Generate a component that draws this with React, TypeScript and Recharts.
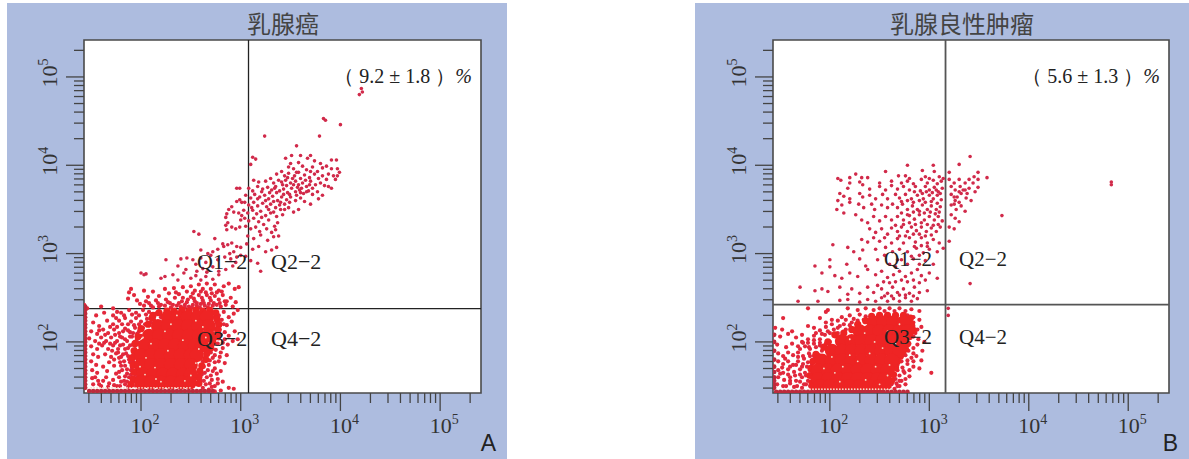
import { ScatterChart, Scatter, XAxis, YAxis, ReferenceLine, ReferenceArea } from "recharts";

// all point lists are [log10 x, log10 y]

const AXIS_MIN_X = 26.8;
const AXIS_MAX_X = 257000;
const AXIS_MIN_Y = 26.4;
const AXIS_MAX_Y = 262000;

const MAJOR_TICKS = [100, 1000, 10000, 100000];
const X_TICKS = [30, 40, 50, 60, 70, 80, 90, 100, 200, 300, 400, 500, 600, 700, 800, 900, 1000, 2000, 3000, 4000, 5000, 6000, 7000, 8000, 9000, 10000, 20000, 30000, 40000, 50000, 60000, 70000, 80000, 90000, 100000, 200000];
const Y_TICKS = X_TICKS;

// 乳腺癌
const aGateX = 1197;
const aGateY = 238;

const aCore = [
  [2.27,2.28],[2.37,2.28],[2.47,2.28],[2.57,2.28],[2.66,2.28],[2.17,2.18],[2.27,2.18],[2.37,2.18],[2.47,2.18],[2.57,2.18],[2.68,2.18],
  [2.08,2.07],[2.18,2.07],[2.28,2.07],[2.38,2.07],[2.48,2.07],[2.58,2.07],[2.67,2.07],[2.04,1.96],[2.14,1.96],[2.24,1.96],[2.34,1.96],[2.44,1.96],[2.54,1.96],[2.61,1.96],
  [2.0,1.85],[2.1,1.85],[2.2,1.85],[2.3,1.85],[2.4,1.85],[2.5,1.85],[2.56,1.85],[2.0,1.74],[2.1,1.74],[2.2,1.74],[2.3,1.74],[2.4,1.74],[2.5,1.74],
  [2.02,1.63],[2.12,1.63],[2.22,1.63],[2.32,1.63],[2.42,1.63],[2.5,1.63],[2.0,1.54],[2.1,1.54],[2.2,1.54],[2.3,1.54],[2.4,1.54],[2.49,1.54],
];
const aHalo = [
  [2.18,2.33],[2.26,2.35],[2.33,2.35],[2.41,2.36],[2.48,2.35],[2.55,2.36],[2.62,2.35],[2.69,2.36],[2.75,2.33],[2.76,2.26],[2.78,2.2],[2.77,2.13],[2.76,2.06],[2.72,2.0],[2.7,1.93],[2.66,1.87],[2.65,1.8],[2.61,1.73],[2.59,1.67],[2.58,1.6],[2.58,1.53],
  [2.11,2.27],[2.07,2.2],[2.0,2.15],[1.97,2.06],[1.94,1.98],[1.93,1.9],[1.91,1.82],[1.92,1.74],[1.93,1.66],[1.92,1.58],[1.9,1.52],[2.12,2.3],
];
const aEdge = [
  [1.44,2.4],[1.44,2.36],[1.44,2.32],[1.44,2.28],[1.44,2.24],[1.44,2.2],[1.44,2.16],[1.44,2.12],[1.44,2.08],[1.44,2.04],[1.44,2.0],[1.44,1.96],[1.44,1.92],[1.44,1.88],[1.44,1.84],[1.44,1.8],[1.44,1.76],[1.44,1.72],[1.44,1.68],[1.44,1.64],[1.44,1.6],[1.44,1.56],[1.44,1.52],[1.44,1.48],
  [1.48,1.445],[1.52,1.445],[1.56,1.445],[1.6,1.445],[1.64,1.445],[1.68,1.445],[1.72,1.445],[1.76,1.445],[1.8,1.445],[1.84,1.445],[1.88,1.445],[1.92,1.445],[1.96,1.445],[2.0,1.445],[2.04,1.445],[2.08,1.445],[2.12,1.445],[2.16,1.445],[2.2,1.445],[2.24,1.445],[2.28,1.445],[2.32,1.445],[2.36,1.445],[2.4,1.445],[2.44,1.445],[2.48,1.445],[2.52,1.445],[2.56,1.445],[2.6,1.445],[2.64,1.445],[2.68,1.445],[2.72,1.445],
];
const aBand = [
  [1.5,1.48],[1.53,1.48],[1.56,1.48],[1.59,1.48],[1.62,1.48],[1.65,1.48],[1.68,1.48],[1.71,1.48],[1.74,1.48],[1.77,1.48],[1.8,1.48],[1.83,1.48],[1.86,1.48],[1.89,1.48],[1.92,1.48],[1.95,1.48],[1.98,1.48],[2.01,1.48],[2.04,1.48],[2.07,1.48],[2.1,1.48],[2.13,1.48],[2.16,1.48],[2.19,1.48],[2.22,1.48],[2.25,1.48],[2.28,1.48],[2.31,1.48],[2.34,1.48],[2.37,1.48],[2.4,1.48],[2.43,1.48],[2.46,1.48],[2.49,1.48],
];
const aGaps = [
  [2.02,2.05],[2.1,1.98],[2.05,1.82],[2.14,1.71],[2.04,1.63],[2.15,1.58],[2.24,2.12],[2.3,2.2],[2.42,2.02],[2.27,1.9],[2.58,1.92],[2.55,1.76],[2.5,1.62],[2.44,1.56],[2.62,2.17],[2.55,2.24],[2.36,2.3],[2.65,2.05],[2.2,1.55],[1.99,1.72],
];
const aCluster = [
  [4.21,4.87],[4.19,4.8],[4.22,4.83],[3.83,4.53],[3.85,4.51],[4.0,4.46],[3.24,4.33],[3.79,4.33],[3.56,4.22],
  [3.12,4.09],[3.15,4.07],[3.1,4.01],[3.45,4.08],[3.51,4.11],[3.58,4.03],[3.6,4.11],[3.7,4.11],[3.67,4.08],[3.74,4.05],[3.8,4.02],[3.91,4.06],[3.96,4.06],
  [3.48,3.98],[3.5,4.02],[3.53,3.96],[3.62,3.99],[3.66,3.95],[3.72,3.98],[3.77,3.93],[3.82,3.97],[3.86,3.99],[3.91,3.96],[3.97,3.96],[3.99,3.92],[3.93,3.88],
  [3.36,3.9],[3.41,3.93],[3.44,3.88],[3.48,3.91],[3.54,3.88],[3.58,3.92],[3.6,3.85],[3.64,3.89],[3.69,3.86],[3.74,3.9],[3.78,3.85],[3.82,3.88],[3.86,3.84],[3.88,3.9],[3.95,3.84],[3.97,3.88],
  [3.13,3.83],[3.18,3.81],[3.25,3.82],[3.3,3.85],[3.33,3.8],[3.38,3.83],[3.42,3.78],[3.45,3.83],[3.5,3.8],[3.55,3.82],[3.58,3.78],[3.62,3.8],[3.66,3.76],[3.7,3.82],[3.75,3.78],[3.8,3.8],[3.84,3.77],[3.88,3.76],[3.91,3.74],
  [3.08,3.74],[3.12,3.71],[3.17,3.76],[3.22,3.73],[3.27,3.75],[3.31,3.72],[3.35,3.76],[3.39,3.71],[3.43,3.73],[3.47,3.69],[3.51,3.74],[3.55,3.7],[3.59,3.72],[3.63,3.68],[3.68,3.71],[3.72,3.67],[3.77,3.7],[3.82,3.66],
  [3.05,3.66],[3.1,3.63],[3.14,3.67],[3.19,3.64],[3.24,3.66],[3.28,3.62],[3.32,3.65],[3.37,3.6],[3.41,3.64],[3.46,3.61],[3.5,3.64],[3.55,3.6],[3.6,3.63],[3.64,3.59],[3.7,3.56],[3.78,3.62],
  [3.04,3.58],[3.08,3.55],[3.13,3.58],[3.17,3.54],[3.22,3.57],[3.26,3.53],[3.3,3.56],[3.35,3.52],[3.39,3.55],[3.44,3.5],[3.48,3.52],[3.53,3.47],[3.58,3.5],
  [3.03,3.49],[3.07,3.46],[3.12,3.49],[3.16,3.45],[3.2,3.48],[3.25,3.43],[3.3,3.46],[3.36,3.42],[3.42,3.44],[3.04,3.4],[3.08,3.37],[3.13,3.4],[3.18,3.36],[3.23,3.33],[3.28,3.38],[3.34,3.31],[3.37,3.35],
  [3.05,3.31],[3.1,3.28],[3.15,3.3],[3.19,3.25],[3.26,3.28],[3.31,3.24],[3.35,3.27],[3.07,3.2],[3.13,3.17],[3.2,3.21],[3.27,3.15],[3.33,3.19],[3.38,3.2],[3.06,3.11],[3.12,3.05],[3.18,3.08],[3.25,3.02],[3.31,3.04],[3.36,3.07],
  [3.05,2.97],[3.1,2.92],[3.17,2.89],[3.2,2.8],
  [3.34,3.74],[3.36,3.69],[3.41,3.81],[3.43,3.67],[3.46,3.77],[3.49,3.67],[3.52,3.85],[3.53,3.78],[3.56,3.66],[3.57,3.75],[3.61,3.74],[3.6,3.69],[3.65,3.83],[3.66,3.7],[3.69,3.78],[3.72,3.74],[3.29,3.69],[3.25,3.6],[3.21,3.7],[3.33,3.59],[3.4,3.58],[3.44,3.56],[3.49,3.58],[3.28,3.5],[3.33,3.47],[3.17,3.62],[3.11,3.52],[3.21,3.41],[3.4,3.5],[3.47,3.86],[3.56,3.92],[3.7,3.93],
];
const aTail = [
  [2.96,3.74],[2.99,3.74],[2.99,3.61],[3.01,3.58],[2.96,3.59],[2.91,3.53],[2.88,3.5],[2.86,3.45],[2.85,3.41],[2.93,3.47],[2.98,3.46],[3.01,3.43],
  [2.87,3.35],[2.85,3.32],[2.91,3.3],[2.86,3.27],[3.0,3.38],[2.95,3.28],[2.99,3.3],[2.53,3.25],[2.58,3.22],[2.74,3.17],[2.82,3.11],[2.87,3.1],[2.91,3.12],[2.96,3.08],[3.0,3.07],
  [2.6,3.04],[2.67,3.0],[2.72,3.02],[2.77,3.05],[2.83,3.08],[2.89,3.0],[2.93,3.02],[2.96,2.96],[3.0,2.98],
  [2.4,2.94],[2.46,2.95],[2.52,2.93],[2.55,2.88],[2.6,2.95],[2.65,2.9],[2.7,2.98],[2.77,2.93],[2.84,2.96],[2.9,2.94],[2.95,2.9],
  [2.25,2.93],[2.37,2.86],[2.45,2.82],[2.56,2.8],[2.62,2.83],[2.66,2.79],[2.72,2.85],[2.78,2.8],[2.85,2.82],[2.92,2.86],
  [2.0,2.78],[2.03,2.76],[2.05,2.77],[2.2,2.72],[2.24,2.74],[2.32,2.76],[2.37,2.7],[2.43,2.78],[2.5,2.72],[2.55,2.75],[2.6,2.7],[2.65,2.74],[2.72,2.71],[2.78,2.76],
];
const aFringe = [
  [1.9,2.6],[1.88,2.56],[1.93,2.53],[1.87,2.49],[1.96,2.47],[2.03,2.58],[2.07,2.51],[2.12,2.57],[2.18,2.52],[2.24,2.6],[2.28,2.55],[2.33,2.61],[2.38,2.54],[2.42,2.62],[2.46,2.57],[2.5,2.63],[2.54,2.58],[2.58,2.65],[2.62,2.6],[2.66,2.66],[2.7,2.6],[2.74,2.65],[2.78,2.58],[2.83,2.63],[2.88,2.66],[2.94,2.6],[2.98,2.62],
  [1.99,2.43],[2.05,2.46],[2.1,2.41],[2.15,2.47],[2.2,2.42],[2.25,2.48],[2.29,2.44],[2.34,2.5],[2.38,2.44],[2.42,2.5],[2.46,2.45],[2.5,2.51],[2.54,2.46],[2.58,2.53],[2.62,2.47],[2.66,2.53],[2.7,2.47],[2.74,2.52],[2.78,2.48],[2.82,2.53],[2.86,2.46],[2.9,2.5],[2.95,2.45],
  [2.12,2.39],[2.18,2.4],[2.24,2.41],[2.3,2.39],[2.36,2.41],[2.4,2.4],[2.44,2.42],[2.48,2.4],[2.52,2.42],[2.56,2.41],[2.6,2.43],[2.64,2.41],[2.68,2.43],[2.72,2.41],[2.76,2.42],[2.8,2.4],[2.85,2.42],[2.92,2.4],
  [2.27,2.45],[2.32,2.42],[2.41,2.46],[2.44,2.39],[2.47,2.48],[2.51,2.39],[2.53,2.49],[2.56,2.44],[2.59,2.39],[2.61,2.5],[2.63,2.44],[2.65,2.56],[2.67,2.39],[2.69,2.5],[2.71,2.55],[2.73,2.44],[2.76,2.56],[2.79,2.44],[2.81,2.57],[2.84,2.46],[2.17,2.44],[2.08,2.44],[2.03,2.41],[2.35,2.56],[2.52,2.55],[2.6,2.57],
];
const aField = [
  [1.43,2.42],[1.46,2.38],[1.6,2.4],[1.72,2.38],[1.55,2.3],[1.63,2.33],[1.72,2.3],[1.8,2.33],[1.88,2.36],[1.95,2.33],[2.02,2.36],[2.08,2.34],[2.15,2.32],
  [1.52,2.22],[1.58,2.18],[1.66,2.24],[1.72,2.2],[1.78,2.24],[1.84,2.27],[1.9,2.23],[1.95,2.27],[2.0,2.23],[2.06,2.26],[2.1,2.22],
  [1.5,2.12],[1.56,2.09],[1.62,2.14],[1.67,2.1],[1.73,2.14],[1.78,2.1],[1.84,2.15],[1.89,2.11],[1.94,2.16],[1.98,2.12],[2.02,2.16],
  [1.48,2.04],[1.54,2.01],[1.6,2.05],[1.65,2.01],[1.7,2.05],[1.76,2.01],[1.81,2.05],[1.86,2.01],[1.91,2.06],[1.96,2.03],
  [1.5,1.95],[1.56,1.92],[1.61,1.96],[1.67,1.92],[1.72,1.96],[1.77,1.92],[1.82,1.97],[1.87,1.93],[1.92,1.97],
  [1.52,1.86],[1.57,1.83],[1.64,1.86],[1.7,1.83],[1.75,1.87],[1.8,1.83],[1.85,1.87],[1.9,1.83],[1.94,1.87],
  [1.5,1.78],[1.55,1.74],[1.62,1.72],[1.68,1.77],[1.73,1.73],[1.79,1.77],[1.84,1.73],[1.89,1.77],[1.93,1.73],
  [1.51,1.68],[1.56,1.65],[1.66,1.67],[1.75,1.64],[1.81,1.68],[1.86,1.64],[1.9,1.68],[1.94,1.63],
  [1.51,1.59],[1.57,1.56],[1.65,1.6],[1.72,1.57],[1.78,1.6],[1.83,1.56],[1.88,1.6],[1.93,1.56],
  [1.52,1.52],[1.6,1.5],[1.68,1.53],[1.76,1.5],[1.84,1.52],[1.9,1.5],[1.95,1.5],
  [2.72,2.33],[2.78,2.3],[2.83,2.34],[2.88,2.28],[2.93,2.32],[2.97,2.36],[2.76,2.22],[2.81,2.25],[2.86,2.19],[2.91,2.23],[2.79,2.14],[2.84,2.11],[2.88,2.07],[2.94,2.12],[2.78,2.04],[2.82,1.99],[2.87,1.97],[2.92,2.01],[2.97,2.03],
  [2.7,1.95],[2.75,1.91],[2.8,1.88],[2.86,1.85],[2.66,1.86],[2.72,1.82],[2.78,1.78],[2.84,1.76],[2.62,1.78],[2.68,1.74],[2.74,1.7],[2.8,1.67],[2.6,1.69],[2.64,1.65],[2.7,1.62],[2.77,1.58],[2.58,1.6],[2.63,1.56],[2.69,1.53],[2.74,1.5],[2.82,1.55],[2.88,1.48],[2.58,1.52],[2.62,1.48],[2.68,1.46],[2.74,1.44],[2.8,1.45],[2.93,1.47],
  // second pass over the speckled parts, they are a lot denser than one layer
  [1.76,2.34],[1.83,2.3],[1.91,2.31],[1.98,2.3],[2.05,2.31],[2.11,2.3],[2.18,2.35],[2.2,2.28],[1.75,2.27],[1.81,2.2],[1.87,2.2],[1.93,2.19],[1.98,2.2],[2.04,2.2],[2.08,2.19],[2.13,2.25],
  [1.76,2.17],[1.82,2.12],[1.87,2.13],[1.92,2.1],[1.96,2.09],[2.0,2.07],[1.69,2.17],[1.64,2.08],[1.58,2.13],[1.74,2.08],[1.79,2.06],[1.84,2.03],[1.89,2.06],[1.94,2.0],[1.98,1.99],
  [1.69,1.98],[1.74,1.99],[1.79,1.96],[1.84,1.92],[1.89,1.96],[1.94,1.92],[1.98,1.9],[1.63,1.99],[1.58,1.98],[1.71,1.9],[1.77,1.88],[1.82,1.86],[1.87,1.84],[1.92,1.85],[1.96,1.81],
  [1.73,1.8],[1.78,1.82],[1.83,1.78],[1.88,1.8],[1.92,1.78],[1.96,1.76],[1.8,1.73],[1.86,1.69],[1.91,1.71],[1.96,1.69],[1.78,1.66],[1.84,1.61],[1.9,1.63],[1.96,1.6],[1.8,1.55],[1.86,1.55],[1.91,1.58],[1.97,1.54],[1.73,1.51],[1.79,1.5],[1.87,1.49],[1.98,1.49],[1.62,1.56],[1.54,1.6],[1.58,1.52],[1.67,1.49],
  [2.7,2.25],[2.74,2.28],[2.79,2.18],[2.74,2.15],[2.83,2.2],[2.72,2.1],[2.75,2.06],[2.8,2.08],[2.84,2.03],[2.69,2.02],[2.72,1.97],[2.77,1.98],[2.82,1.93],[2.67,1.91],[2.7,1.88],[2.74,1.85],[2.79,1.83],[2.64,1.82],[2.69,1.79],[2.74,1.77],[2.63,1.72],[2.67,1.68],[2.72,1.67],[2.76,1.64],[2.61,1.63],[2.66,1.6],[2.71,1.57],[2.6,1.56],[2.65,1.52],[2.71,1.49],[2.77,1.53],
];

// 乳腺良性肿瘤
const bGateX = 1455;
const bGateY = 264;

const bCore = [
  [2.44,2.22],[2.54,2.22],[2.64,2.22],[2.74,2.22],[2.3,2.12],[2.4,2.12],[2.5,2.12],[2.6,2.12],[2.7,2.12],[2.78,2.12],
  [2.12,2.01],[2.22,2.01],[2.32,2.01],[2.42,2.01],[2.52,2.01],[2.62,2.01],[2.72,2.01],[2.02,1.9],[2.12,1.9],[2.22,1.9],[2.32,1.9],[2.42,1.9],[2.52,1.9],[2.62,1.9],[2.7,1.9],
  [1.92,1.79],[2.02,1.79],[2.12,1.79],[2.22,1.79],[2.32,1.79],[2.42,1.79],[2.52,1.79],[2.62,1.79],[1.88,1.68],[1.98,1.68],[2.08,1.68],[2.18,1.68],[2.28,1.68],[2.38,1.68],[2.48,1.68],[2.58,1.68],
  [1.88,1.58],[1.98,1.58],[2.08,1.58],[2.18,1.58],[2.28,1.58],[2.38,1.58],[2.48,1.58],[2.55,1.58],[1.9,1.5],[2.0,1.5],[2.1,1.5],[2.2,1.5],[2.3,1.5],[2.4,1.5],[2.5,1.5],
];
const bHalo = [
  [2.36,2.24],[2.42,2.29],[2.5,2.3],[2.58,2.3],[2.66,2.3],[2.74,2.3],[2.81,2.27],[2.82,2.2],[2.84,2.13],[2.8,2.06],[2.78,1.98],[2.76,1.92],[2.71,1.84],[2.68,1.78],[2.66,1.71],[2.64,1.63],[2.62,1.56],[2.58,1.5],
  [2.28,2.2],[2.22,2.14],[2.14,2.1],[2.05,2.08],[1.98,2.0],[1.94,1.94],[1.86,1.86],[1.83,1.78],[1.81,1.7],[1.8,1.62],[1.82,1.54],[1.83,1.49],
];
const bEdge = [
  [1.44,2.08],[1.44,2.0],[1.44,1.9],[1.44,1.8],[1.44,1.72],[1.44,1.66],[1.44,1.6],[1.44,1.56],[1.44,1.52],[1.44,1.48],
  [1.46,1.435],[1.5,1.435],[1.54,1.435],[1.58,1.435],[1.62,1.435],[1.66,1.435],[1.7,1.435],[1.74,1.435],[1.78,1.435],[1.82,1.435],[1.86,1.435],[1.9,1.435],[1.94,1.435],[1.98,1.435],[2.02,1.435],[2.06,1.435],[2.1,1.435],[2.14,1.435],[2.18,1.435],[2.22,1.435],[2.26,1.435],[2.3,1.435],[2.34,1.435],[2.38,1.435],[2.42,1.435],[2.46,1.435],[2.5,1.435],[2.54,1.435],[2.58,1.435],[2.62,1.435],[2.66,1.435],[2.7,1.435],[2.74,1.435],[2.78,1.435],
];
const bBand = [
  [1.8,1.465],[1.83,1.465],[1.86,1.465],[1.89,1.465],[1.92,1.465],[1.95,1.465],[1.98,1.465],[2.01,1.465],[2.04,1.465],[2.07,1.465],[2.1,1.465],[2.13,1.465],[2.16,1.465],[2.19,1.465],[2.22,1.465],[2.25,1.465],[2.28,1.465],[2.31,1.465],[2.34,1.465],[2.37,1.465],[2.4,1.465],[2.43,1.465],[2.46,1.465],[2.49,1.465],[2.52,1.465],[2.55,1.465],[2.58,1.465],[2.61,1.465],
];
const bGaps = [
  [2.02,1.83],[1.94,1.7],[2.05,1.65],[2.13,1.72],[2.2,1.85],[2.1,1.55],[2.36,1.57],[2.28,1.78],[2.4,1.87],[2.45,2.0],[2.53,1.93],[2.58,2.12],[2.46,1.72],[2.58,1.62],[2.35,2.1],[2.2,2.03],[2.66,1.98],[2.7,2.2],[2.6,1.74],[2.5,1.52],
];
const bCluster = [
  [3.41,4.1],[4.83,3.81],[4.83,3.78],[3.73,3.43],[3.41,2.66],[3.19,2.3],[3.19,2.38],
  [2.78,4.0],[3.04,4.0],[3.3,4.01],[2.56,3.93],[2.26,3.9],[2.93,3.94],[3.05,3.93],[3.2,3.92],[3.49,3.92],[3.45,3.87],[3.58,3.86],[3.49,3.84],[2.08,3.85],[2.11,3.83],[2.2,3.86],[2.32,3.86],[2.38,3.86],[2.3,3.81],[2.69,3.88],[2.76,3.88],[2.8,3.85],[2.96,3.87],[3.0,3.85],[3.1,3.87],[3.14,3.85],
  [2.2,3.8],[2.18,3.74],[2.33,3.78],[2.5,3.8],[2.62,3.82],[2.72,3.8],[2.78,3.82],[2.84,3.79],[2.92,3.84],[2.98,3.8],[3.04,3.83],[3.08,3.79],[3.12,3.82],[3.2,3.84],[3.25,3.8],[3.3,3.84],[3.36,3.8],[3.4,3.84],[3.44,3.8],[3.49,3.75],
  [2.4,3.73],[2.5,3.76],[2.56,3.72],[2.62,3.77],[2.68,3.73],[2.74,3.76],[2.8,3.72],[2.86,3.76],[2.91,3.71],[2.96,3.76],[3.0,3.72],[3.05,3.75],[3.09,3.7],[3.13,3.74],[3.22,3.76],[3.26,3.72],[3.31,3.76],[3.36,3.72],[3.4,3.74],[3.46,3.7],
  [2.1,3.68],[2.14,3.65],[2.2,3.62],[2.08,3.6],[2.3,3.68],[2.33,3.64],[2.4,3.66],[2.46,3.62],[2.53,3.67],[2.58,3.62],[2.66,3.67],[2.7,3.63],[2.76,3.67],[2.82,3.62],[2.88,3.66],[2.94,3.62],[3.0,3.66],[3.04,3.62],[3.08,3.66],[3.12,3.61],[3.22,3.67],[3.28,3.64],[3.32,3.68],[3.37,3.63],[3.42,3.6],
  [2.12,3.55],[2.2,3.58],[2.07,3.5],[2.14,3.46],[2.29,3.56],[2.34,3.52],[2.42,3.56],[2.45,3.5],[2.52,3.55],[2.58,3.52],[2.63,3.56],[2.68,3.52],[2.73,3.56],[2.78,3.5],[2.83,3.54],[2.88,3.5],[2.93,3.55],[2.98,3.5],[3.02,3.54],[3.07,3.5],[3.11,3.53],[3.22,3.55],[3.27,3.5],[3.32,3.54],[3.36,3.48],
  [2.26,3.44],[2.32,3.38],[2.38,3.35],[2.44,3.42],[2.5,3.37],[2.56,3.42],[2.62,3.38],[2.68,3.42],[2.74,3.38],[2.8,3.43],[2.85,3.39],[2.9,3.44],[2.95,3.38],[3.0,3.42],[3.05,3.38],[3.09,3.42],[3.13,3.37],[3.22,3.44],[3.26,3.4],[3.3,3.36],
  [2.4,3.28],[2.46,3.24],[2.52,3.28],[2.58,3.22],[2.62,3.29],[2.68,3.25],[2.72,3.3],[2.78,3.25],[2.82,3.3],[2.87,3.26],[2.92,3.3],[2.97,3.25],[3.02,3.29],[3.07,3.25],[3.11,3.3],[3.2,3.3],[3.25,3.28],
  [2.32,3.16],[2.38,3.13],[2.44,3.18],[2.5,3.14],[2.55,3.18],[2.62,3.12],[2.68,3.17],[2.74,3.12],[2.8,3.18],[2.86,3.13],[2.92,3.18],[2.98,3.12],[3.04,3.16],[3.1,3.12],[3.2,3.14],
  [2.03,3.1],[2.18,3.07],[2.24,3.02],[2.33,3.04],[2.46,3.05],[2.56,3.07],[2.63,3.02],[2.7,3.05],[2.78,3.02],[2.87,3.06],[2.94,3.01],[3.0,3.05],[3.08,3.02],[3.14,3.06],
  [1.85,2.86],[2.0,2.93],[2.0,2.85],[2.17,2.88],[2.3,2.94],[2.36,2.86],[2.48,2.93],[2.55,2.98],[2.6,2.88],[2.66,2.85],[2.72,2.93],[2.78,2.88],[2.84,2.94],[2.9,2.88],[2.96,2.92],[3.04,2.88],
  [1.92,2.78],[2.05,2.75],[2.12,2.72],[2.2,2.78],[2.28,2.74],[2.38,2.82],[2.46,2.76],[2.52,2.8],[2.58,2.73],[2.64,2.76],[2.7,2.8],[2.76,2.74],[2.82,2.78],[2.88,2.82],[2.92,2.75],[3.0,2.78],[3.08,2.72],
  [1.7,2.62],[1.85,2.58],[1.92,2.6],[1.98,2.57],[2.1,2.62],[2.18,2.54],[2.22,2.6],[2.3,2.55],[2.38,2.62],[2.44,2.56],[2.52,2.6],[2.58,2.55],[2.63,2.62],[2.68,2.56],[2.74,2.6],[2.8,2.55],[2.85,2.62],[2.9,2.56],[2.98,2.58],
  [1.68,2.46],[1.88,2.46],[2.1,2.47],[2.18,2.48],[2.3,2.45],[2.38,2.48],[2.46,2.46],[2.52,2.5],[2.58,2.46],[2.64,2.49],[2.7,2.46],[2.76,2.5],[2.82,2.46],[2.88,2.49],
  // the thick part right of x = 500
  [2.72,3.59],[2.78,3.6],[2.84,3.58],[2.9,3.6],[2.96,3.58],[3.02,3.59],[3.08,3.57],[3.26,3.6],[3.3,3.58],[3.34,3.72],[3.38,3.68],[3.3,3.7],[3.25,3.64],[3.25,3.56],[2.85,3.7],[2.93,3.68],[2.97,3.7],[3.03,3.69],[3.07,3.72],[3.11,3.68],
  [2.72,3.46],[2.78,3.44],[2.84,3.47],[2.9,3.48],[2.95,3.46],[3.01,3.47],[3.06,3.45],[3.1,3.47],[2.66,3.32],[2.74,3.33],[2.8,3.35],[2.86,3.33],[2.92,3.35],[2.98,3.33],[3.04,3.32],[3.09,3.33],[2.7,3.2],[2.76,3.2],[2.84,3.22],[2.9,3.22],[2.96,3.2],[3.02,3.21],[2.85,3.08],[2.92,3.09],[2.98,3.08],[2.82,2.97],[2.9,2.98],[2.68,2.93],
  [2.66,2.68],[2.72,2.7],[2.78,2.68],[2.84,2.7],[2.9,2.67],[2.96,2.7],[2.6,2.67],[2.54,2.68],[2.48,2.64],[2.76,2.53],[2.7,2.53],[2.62,2.52],[2.55,2.52],[2.84,2.52],
];
const bField = [
  [1.78,2.38],[1.98,2.36],[1.96,2.34],[2.18,2.38],[2.28,2.36],[2.36,2.38],[2.44,2.36],[2.5,2.38],[2.55,2.35],[2.6,2.38],[2.65,2.35],[2.7,2.38],[2.76,2.35],[2.82,2.37],[2.9,2.35],
  [1.53,2.27],[1.9,2.27],[2.02,2.25],[2.12,2.28],[2.2,2.3],[2.24,2.26],[2.3,2.31],[2.36,2.29],[2.78,2.3],[2.84,2.28],[2.9,2.25],
  [1.45,2.16],[1.52,2.14],[1.62,2.12],[1.78,2.18],[1.84,2.16],[1.9,2.13],[1.96,2.17],[2.02,2.2],[2.08,2.16],[2.14,2.2],[2.2,2.19],[2.84,2.18],[2.88,2.14],[2.92,2.17],
  [1.5,2.06],[1.58,2.09],[1.66,2.05],[1.72,2.08],[1.78,2.03],[1.84,2.07],[1.9,2.03],[1.95,2.08],[2.0,2.1],[2.84,2.06],[2.89,2.03],[2.95,2.0],
  [1.47,1.97],[1.56,1.94],[1.62,1.98],[1.68,1.95],[1.73,1.99],[1.79,1.94],[1.84,1.98],[1.9,1.96],[2.78,1.96],[2.84,1.93],[2.88,1.97],[2.93,1.9],
  [1.48,1.87],[1.53,1.84],[1.58,1.88],[1.63,1.85],[1.68,1.88],[1.73,1.84],[1.79,1.87],[1.84,1.84],[2.7,1.82],[2.76,1.85],[2.82,1.82],[2.87,1.84],[2.92,1.79],
  [1.48,1.78],[1.53,1.75],[1.58,1.78],[1.63,1.74],[1.68,1.78],[1.73,1.75],[1.78,1.77],[2.68,1.74],[2.73,1.71],[2.78,1.75],[2.84,1.72],[2.9,1.7],
  [1.48,1.68],[1.53,1.65],[1.58,1.69],[1.64,1.66],[1.7,1.69],[1.75,1.65],[1.8,1.68],[2.64,1.64],[2.7,1.62],[2.75,1.65],[2.8,1.61],[3.02,1.65],
  [1.48,1.6],[1.54,1.57],[1.6,1.6],[1.66,1.56],[1.72,1.6],[1.78,1.56],[1.82,1.6],[2.62,1.56],[2.67,1.53],[2.72,1.56],[2.76,1.52],
  [1.47,1.52],[1.53,1.5],[1.6,1.53],[1.67,1.5],[1.74,1.52],[1.8,1.5],[2.6,1.49],[2.65,1.47],[2.7,1.5],
  // second pass, denser towards the main blob
  [2.08,2.24],[2.16,2.25],[2.22,2.22],[2.28,2.24],[2.34,2.25],[1.96,2.22],[2.04,2.14],[2.1,2.18],[2.16,2.14],[2.22,2.16],[1.86,2.1],[1.92,2.09],[1.98,2.12],[2.04,2.08],[2.08,2.1],
  [1.72,2.0],[1.78,1.99],[1.84,2.02],[1.9,1.99],[1.96,1.98],[2.0,2.0],[1.7,1.92],[1.75,1.95],[1.8,1.92],[1.86,1.94],[1.92,1.9],[1.95,1.94],[1.68,1.83],[1.74,1.81],[1.8,1.84],[1.85,1.81],[1.89,1.85],
  [1.66,1.74],[1.72,1.72],[1.77,1.72],[1.82,1.75],[1.86,1.72],[1.65,1.62],[1.7,1.63],[1.76,1.62],[1.82,1.64],[1.6,1.72],[1.58,1.63],[1.6,1.56],[1.7,1.55],[1.76,1.52],[1.84,1.54],[1.56,1.5],[1.64,1.49],[1.72,1.48],[1.5,1.64],[1.52,1.71],[1.55,1.81],
  [2.8,2.24],[2.84,2.22],[2.86,2.1],[2.8,2.06],[2.76,1.99],[2.8,1.98],[2.74,1.93],[2.79,1.9],[2.84,1.87],[2.72,1.78],[2.78,1.79],[2.84,1.78],[2.68,1.68],[2.74,1.67],[2.8,1.68],[2.66,1.58],[2.7,1.56],[2.76,1.58],[2.62,1.52],[2.68,1.5],
];

const toPoints = (list: number[][]) => list.map(([x, y]) => ({ x: 10 ** x, y: 10 ** y }));

const DOT = "#d12a4a";
const FIELD = "#e2283c";
const DENSE = "#ee2424";
const EDGE = "#bd2a3c";
const GAP = "#f6dccb";
const LINE_TEXT = "#333";

const marker = (r: number, fill: string) => (p: any) => <circle cx={p.cx} cy={p.cy} r={r} fill={fill} />;

function XTick({ x, y, payload }: any) {
  const major = MAJOR_TICKS.includes(payload.value);
  return (
    <g>
      <line x1={x} x2={x} y1={y} y2={y + (major ? 18 : 10)} stroke="#444" strokeWidth={1.3} />
      {major && (
        <text x={x + 4} y={y + 40} textAnchor="middle" fontFamily="Liberation Serif" fontSize={22} fill={LINE_TEXT}>
          10<tspan dy={-9} fontSize={14}>{Math.round(Math.log10(payload.value))}</tspan>
        </text>
      )}
    </g>
  );
}

function YTick({ x, y, payload }: any) {
  const major = MAJOR_TICKS.includes(payload.value);
  return (
    <g>
      <line x1={x - (major ? 18 : 10)} x2={x} y1={y} y2={y} stroke="#444" strokeWidth={1.3} />
      {major && (
        <text transform={`translate(${x - 27},${y - 4}) rotate(-90)`} textAnchor="middle" fontFamily="Liberation Serif" fontSize={22} fill={LINE_TEXT}>
          10<tspan dy={-9} fontSize={14}>{Math.round(Math.log10(payload.value))}</tspan>
        </text>
      )}
    </g>
  );
}

interface PanelProps {
  left: number;
  width: number;
  marginLeft: number;
  marginRight: number;
  title: string;
  titleCenter: number;
  rate: string;
  letter: string;
  gateX: number;
  gateY: number;
  gateColor: string;
  gateWidth: number;
  core: number[][];
  halo: number[][];
  edge: number[][];
  band: number[][];
  gaps: number[][];
  sparse: number[][];
  field: number[][];
  labelX: number[];
  labelY: number[];
  labelSize: number;
}

function Panel(props: PanelProps) {
  const { left, width, marginLeft, marginRight, title, titleCenter, rate, letter, gateX, gateY, gateColor, gateWidth, core, halo, edge, band, gaps, sparse, field, labelX, labelY, labelSize } = props;
  const textStyle: React.CSSProperties = { position: "absolute", fontFamily: "Liberation Serif", color: "#222", whiteSpace: "nowrap", lineHeight: 1 };
  const qLabels = [
    { text: "Q1−2", x: labelX[0], y: labelY[0] },
    { text: "Q2−2", x: labelX[1], y: labelY[0] },
    { text: "Q3−2", x: labelX[0], y: labelY[1] },
    { text: "Q4−2", x: labelX[1], y: labelY[1] },
  ];
  return (
    <div style={{ position: "absolute", left, top: 3, width, height: 456, background: "#adbcdf" }}>
      <ScatterChart width={width} height={456} margin={{ top: 37, right: marginRight, bottom: 16, left: marginLeft - 60 }}>
        <XAxis
          type="number"
          dataKey="x"
          scale="log"
          domain={[AXIS_MIN_X, AXIS_MAX_X]}
          ticks={X_TICKS}
          interval={0}
          height={50}
          axisLine={false}
          tickLine={false}
          tickSize={0}
          tickMargin={0}
          tick={<XTick />}
          allowDataOverflow
        />
        <YAxis
          type="number"
          dataKey="y"
          scale="log"
          domain={[AXIS_MIN_Y, AXIS_MAX_Y]}
          ticks={Y_TICKS}
          interval={0}
          width={60}
          axisLine={false}
          tickLine={false}
          tickSize={0}
          tickMargin={0}
          tick={<YTick />}
          allowDataOverflow
        />
        <ReferenceArea x1={AXIS_MIN_X} x2={AXIS_MAX_X} y1={AXIS_MIN_Y} y2={AXIS_MAX_Y} fill="#fff" fillOpacity={1} stroke="none" />
        <Scatter data={toPoints(sparse)} isAnimationActive={false} shape={marker(1.8, DOT)} />
        <Scatter data={toPoints(field)} isAnimationActive={false} shape={marker(2.1, FIELD)} />
        <Scatter data={toPoints(halo)} isAnimationActive={false} shape={marker(3.6, DENSE)} />
        <Scatter data={toPoints(core)} isAnimationActive={false} shape={marker(7, DENSE)} />
        <Scatter data={toPoints(gaps)} isAnimationActive={false} shape={marker(0.9, GAP)} />
        <Scatter data={toPoints(edge)} isAnimationActive={false} shape={marker(2.3, EDGE)} />
        <Scatter data={toPoints(band)} isAnimationActive={false} shape={marker(0.9, GAP)} />
        <ReferenceLine x={gateX} stroke={gateColor} strokeWidth={gateWidth} />
        <ReferenceLine y={gateY} stroke={gateColor} strokeWidth={gateWidth} />
        <ReferenceArea x1={AXIS_MIN_X} x2={AXIS_MAX_X} y1={AXIS_MIN_Y} y2={AXIS_MAX_Y} fill="none" stroke="#4a4a4a" strokeWidth={1.6} />
      </ScatterChart>
      <div style={{ position: "absolute", left: titleCenter - 100, width: 200, top: 6, textAlign: "center", fontFamily: "Noto Sans CJK SC", fontSize: 24, lineHeight: "28px", color: "#444" }}>
        {title}
      </div>
      <div style={{ ...textStyle, right: marginRight + 9, top: 63, fontSize: 20 }}>
        （ {rate} ）<i>%</i>
      </div>
      {qLabels.map((q) => (
        <div key={q.text} style={{ ...textStyle, left: q.x, top: q.y, fontSize: labelSize }}>{q.text}</div>
      ))}
      <div style={{ position: "absolute", right: 11, top: 429, fontFamily: "Liberation Sans", fontSize: 23, lineHeight: 1, color: "#222" }}>{letter}</div>
    </div>
  );
}

export default function App() {
  return (
    <div style={{ position: "absolute", left: 0, top: 0, width: 1189, height: 459, background: "#fff", overflow: "hidden" }}>
      <Panel
        left={7}
        width={500}
        marginLeft={77}
        marginRight={26}
        title="乳腺癌"
        titleCenter={276}
        rate="9.2 ± 1.8"
        letter="A"
        gateX={aGateX}
        gateY={aGateY}
        gateColor="#222"
        gateWidth={1.3}
        core={aCore}
        halo={aHalo}
        edge={aEdge}
        band={aBand}
        gaps={aGaps}
        sparse={[...aCluster, ...aTail]}
        field={[...aFringe, ...aField]}
        labelX={[190, 264]}
        labelY={[248, 325]}
        labelSize={22}
      />
      <Panel
        left={695}
        width={494}
        marginLeft={78}
        marginRight={20}
        title="乳腺良性肿瘤"
        titleCenter={267}
        rate="5.6 ± 1.3"
        letter="B"
        gateX={bGateX}
        gateY={bGateY}
        gateColor="#555"
        gateWidth={1.8}
        core={bCore}
        halo={bHalo}
        edge={bEdge}
        band={bBand}
        gaps={bGaps}
        sparse={bCluster}
        field={bField}
        labelX={[189, 264]}
        labelY={[246, 324]}
        labelSize={21}
      />
    </div>
  );
}
